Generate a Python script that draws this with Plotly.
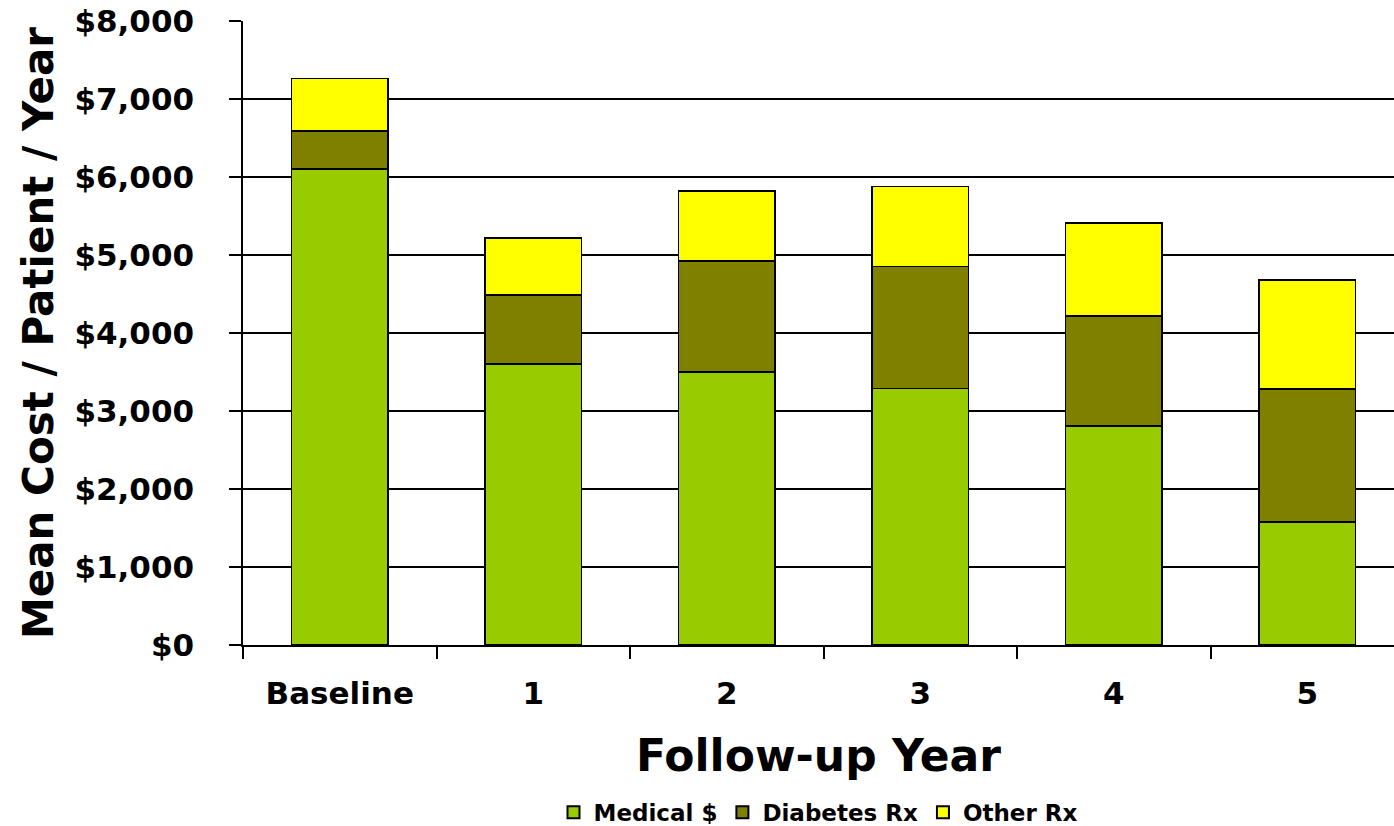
import plotly.graph_objects as go

# Mean annual cost per patient, split by cost component
years = ["Baseline", "1", "2", "3", "4", "5"]
medical = [6100, 3600, 3500, 3290, 2810, 1580]
diabetes_rx = [490, 890, 1420, 1560, 1410, 1700]
other_rx = [670, 730, 900, 1030, 1190, 1400]

y_ticks = [0, 1000, 2000, 3000, 4000, 5000, 6000, 7000, 8000]
y_tick_text = ["$0", "$1,000", "$2,000", "$3,000", "$4,000",
               "$5,000", "$6,000", "$7,000", "$8,000"]

FONT = "DejaVu Sans"
series = [
    ("Medical $", medical, "#99CC00"),
    ("Diabetes Rx", diabetes_rx, "#808000"),
    ("Other Rx", other_rx, "#FFFF00"),
]

fig = go.Figure()
for name, vals, color in series:
    fig.add_trace(go.Bar(
        x=years, y=vals, name=name,
        marker=dict(color=color, line=dict(color="black", width=1.5)),
        width=0.5,
    ))

fig.update_layout(
    barmode="stack",
    width=1394, height=826,
    margin=dict(l=243, r=0, t=21, b=181, autoexpand=False),
    plot_bgcolor="white", paper_bgcolor="white",
    font=dict(family=FONT, color="black", weight="bold"),
    showlegend=True,
    legend=dict(
        orientation="h", x=0.5, xanchor="center",
        y=-0.268, yanchor="middle",
        font=dict(size=23, family=FONT, weight="bold"),
        traceorder="normal", itemsizing="constant", itemwidth=30,
        tracegroupgap=0,
    ),
    xaxis=dict(
        type="category", range=[-0.5, 5.448], automargin=False,
        showline=True, linecolor="black", linewidth=1.5,
        ticks="outside", tickson="boundaries", ticklen=12, tickwidth=1.5, tickcolor="black",
        ticklabelstandoff=20,
        tickfont=dict(size=31, family=FONT, weight="bold"),
        title=dict(text="Follow-up Year", font=dict(size=44, family=FONT, weight="bold"), standoff=30),
        showgrid=False,
    ),
    yaxis=dict(
        range=[0, 8000], automargin=False,
        tickvals=y_ticks, ticktext=y_tick_text,
        showline=True, linecolor="black", linewidth=1.5,
        ticks="outside", ticklen=12, tickwidth=1.5, tickcolor="black",
        ticklabelstandoff=29,
        tickfont=dict(size=31, family=FONT, weight="bold"),
        showgrid=True, gridcolor="black", gridwidth=1.5,
        zeroline=False,
        title=dict(text="Mean Cost / Patient / Year", font=dict(size=42, family=FONT, weight="bold"), standoff=8),
    ),
)

fig.write_html("out.html")
